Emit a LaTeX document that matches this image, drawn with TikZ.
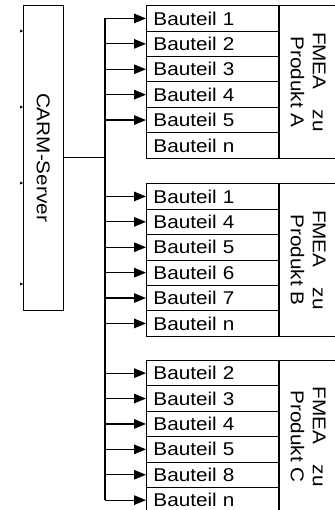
\documentclass[tikz,border=0pt]{standalone}
\usepackage{fontspec}
\setmainfont{Liberation Sans}
\newfontfamily\diafont[FakeStretch=1.12]{Liberation Sans}
\usetikzlibrary{arrows.meta,positioning}

\tikzset{
  diatext/.style={font=\diafont\fontsize{18.5}{22}\selectfont},
  serverbox/.style={draw,line width=0.9pt,minimum width=40pt,minimum height=305pt,inner sep=0pt},
  part/.style={draw,line width=0.9pt,diatext,anchor=north west,minimum width=131.7pt,
    minimum height=25.4pt,text width=117.7pt,inner xsep=7pt,inner ysep=0pt,align=left},
  fmea/.style={draw,line width=0.9pt,anchor=north west,minimum width=58pt,inner sep=0pt},
  fmeatext/.style={diatext,rotate=-90,align=center},
  feed/.style={line width=1.3pt,-{Triangle[length=12pt,width=9.5pt]}},
  tick/.style={line width=0.7pt,-{Triangle[length=2.5pt,width=3pt]}},
}

\begin{document}
\begin{tikzpicture}[x=1pt,y=-1pt]
  \useasboundingbox (0,0) rectangle (334,510);
  % server
  \node[serverbox] (server) at (43.3,157.5) {};
  \node[diatext,rotate=-90] at (server) {CARM-Server};
  \foreach \y [count=\i] in {31,107,183,284}
    \coordinate (t\i) at (19.5,\y);
  \foreach \i in {1,...,4}
    \draw[tick] (t\i) -- (server.west |- t\i);

  % product A
  \foreach \t [count=\i] in {1,2,3,4,5,n}
    \node[part] (a\i) at (146,{5.3+25.4*(\i-1)}) {Bauteil \t};
  \node[fmea,minimum height=152.4pt] (fa) at (a1.north east) {};
  \node[fmeatext] at (fa) {FMEA\hspace{1.1em}zu\\Produkt A};

  % product B
  \foreach \t [count=\i] in {1,4,5,6,7,n}
    \node[part] (b\i) at (146,{183.3+25.4*(\i-1)}) {Bauteil \t};
  \node[fmea,minimum height=152.4pt] (fb) at (b1.north east) {};
  \node[fmeatext] at (fb) {FMEA\hspace{1.1em}zu\\Produkt B};

  % product C
  \foreach \t [count=\i] in {2,3,4,5,8,n}
    \node[part] (c\i) at (146,{360+25.4*(\i-1)}) {Bauteil \t};
  \node[fmea,minimum height=152.4pt] (fc) at (c1.north east) {};
  \node[fmeatext] at (fc) {FMEA\hspace{1.1em}zu\\Produkt C};

  % bus
  \coordinate (bus) at (105,157.5);
  \draw[line width=1.3pt] (server.east) -- (bus);
  \draw[line width=1.3pt] (bus |- a1) -- (bus |- c6);
  \foreach \n in {a1,a2,a3,a4,a5,b1,b2,b3,b4,b5,b6,c1,c2,c3,c4,c5,c6}
    \draw[feed] (bus |- \n.west) -- (\n.west);
\end{tikzpicture}
\end{document}
